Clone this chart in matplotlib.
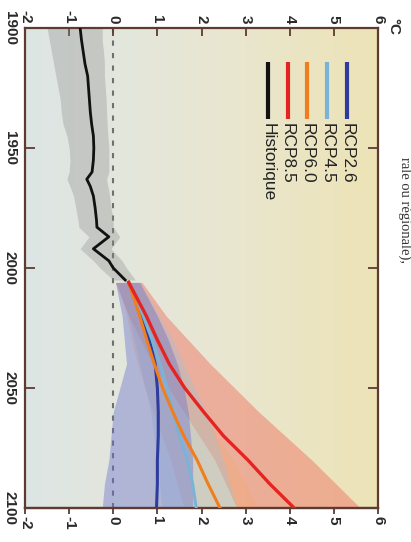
import numpy as np
import matplotlib.pyplot as plt
from matplotlib.colors import LinearSegmentedColormap

# historical simulations (multi-model mean and spread)
hist_years = [1900, 1905, 1910, 1915, 1920, 1925, 1930, 1935, 1940, 1945, 1950,
              1955, 1960, 1963, 1966, 1970, 1975, 1980, 1983, 1987, 1992, 1997, 2000, 2005]
hist_mean = [-0.75, -0.72, -0.68, -0.64, -0.58, -0.56, -0.54, -0.52, -0.49, -0.45, -0.44,
             -0.45, -0.48, -0.60, -0.52, -0.45, -0.41, -0.38, -0.37, -0.10, -0.45, -0.10, 0.0, 0.27]
hist_low = [-1.50, -1.45, -1.40, -1.35, -1.30, -1.25, -1.20, -1.18, -1.14, -1.05, -1.00,
            -0.98, -1.00, -1.05, -0.98, -0.90, -0.85, -0.80, -0.78, -0.55, -0.75, -0.45, -0.30, 0.0]
hist_high = [-0.25, -0.25, -0.22, -0.20, -0.20, -0.18, -0.16, -0.15, -0.14, -0.12, -0.10,
             -0.10, -0.10, -0.15, -0.12, -0.08, -0.05, 0.0, 0.0, 0.15, -0.05, 0.20, 0.30, 0.50]

# projections
proj_years = [2006, 2020, 2030, 2040, 2050, 2060, 2070, 2080, 2090, 2100]
rcp26 = [0.35, 0.65, 0.82, 0.95, 1.0, 1.02, 1.02, 1.0, 1.0, 0.98]
rcp45 = [0.35, 0.68, 0.88, 1.06, 1.22, 1.36, 1.50, 1.68, 1.80, 1.88]
rcp60 = [0.35, 0.60, 0.76, 0.93, 1.12, 1.35, 1.60, 1.90, 2.15, 2.42]
rcp85 = [0.35, 0.75, 1.00, 1.27, 1.62, 2.05, 2.50, 3.05, 3.55, 4.10]
rcp26_low = [0.05, 0.20, 0.25, 0.30, 0.15, 0.0, -0.05, -0.10, -0.20, -0.25]
rcp26_high = [0.60, 1.00, 1.25, 1.45, 1.60, 1.70, 1.75, 1.80, 1.80, 1.80]
rcp45_low = [0.10, 0.35, 0.48, 0.60, 0.72, 0.85, 0.92, 1.00, 1.05, 1.10]
rcp45_high = [0.60, 1.05, 1.35, 1.60, 1.85, 2.10, 2.30, 2.50, 2.65, 2.80]
rcp60_low = [0.10, 0.30, 0.42, 0.55, 0.72, 0.90, 1.10, 1.30, 1.45, 1.60]
rcp60_high = [0.60, 1.00, 1.22, 1.45, 1.72, 2.00, 2.35, 2.70, 3.00, 3.30]
rcp85_low = [0.05, 0.35, 0.62, 0.90, 1.25, 1.60, 1.95, 2.30, 2.55, 2.80]
rcp85_high = [0.65, 1.20, 1.70, 2.20, 2.75, 3.30, 3.90, 4.50, 5.05, 5.60]

legend_labels = ['RCP2.6', 'RCP4.5', 'RCP6.0', 'RCP8.5', 'Historique']
legend_colors = ['#2e3d9b', '#7bb3d6', '#f07d1e', '#e52421', '#111111']

year_ticks = [1900, 1950, 2000, 2050, 2100]
temp_ticks = [-2, -1, 0, 1, 2, 3, 4, 5, 6]

W, H = 411, 542
fig = plt.figure(figsize=(W / 100, H / 100), dpi=100)
ax = fig.add_axes([25 / W, 1 - 508 / H, 353 / W, 480 / H])

# background gradient (bluish grey -> pale yellow)
bg = LinearSegmentedColormap.from_list('bg', ['#dde5e5', '#e8e7d4', '#ede3b6'])
ax.imshow(np.linspace(0, 1, 256)[None, :], cmap=bg, aspect='auto',
          extent=(-2, 6, 2100, 1900), zorder=0)

ax.plot([0, 0], [1900, 2100], color='#6f6f6f', lw=1.5, ls=(0, (2.5, 3.5)), zorder=1)

ax.fill_betweenx(hist_years, hist_low, hist_high, color='#8a8a8a', alpha=0.32, lw=0, zorder=2)
ax.plot(hist_mean, hist_years, color='#111111', lw=2.0, zorder=6)

ax.fill_betweenx(proj_years, rcp85_low, rcp85_high, color='#f06a5a', alpha=0.45, lw=0, zorder=2)
ax.fill_betweenx(proj_years, rcp60_low, rcp60_high, color='#f4a86a', alpha=0.30, lw=0, zorder=2)
ax.fill_betweenx(proj_years, rcp45_low, rcp45_high, color='#9cc4dc', alpha=0.35, lw=0, zorder=2)
ax.fill_betweenx(proj_years, rcp26_low, rcp26_high, color='#6a72d0', alpha=0.42, lw=0, zorder=2)

ax.plot(rcp26, proj_years, color=legend_colors[0], lw=2.2, zorder=5)
ax.plot(rcp45, proj_years, color=legend_colors[1], lw=2.2, zorder=5)
ax.plot(rcp60, proj_years, color=legend_colors[2], lw=2.2, zorder=5)
ax.plot(rcp85, proj_years, color=legend_colors[3], lw=2.4, zorder=5)

# legend drawn by hand, rotated like the rest of the figure
for i, (lab, col) in enumerate(zip(legend_labels, legend_colors)):
    xl = 5.3 - i * 0.45
    ax.plot([xl, xl], [1914, 1938], color=col, lw=3, solid_capstyle='butt', zorder=7)
    ax.text(xl, 1939.5, lab, rotation=-90, ha='center', va='top', fontsize=12.5,
            family='Liberation Sans', color='#222222', zorder=7)

ax.set_xlim(-2, 6)
ax.set_ylim(2100, 1900)

frame = '#5e3b30'
for s in ax.spines.values():
    s.set_color(frame)
    s.set_linewidth(1.6)

ax.set_xticks(temp_ticks)
ax.set_xticklabels([str(t) for t in temp_ticks], rotation=-90, fontsize=11,
                   fontweight='bold', family='Liberation Sans', color='#2a2a2a')
ax.tick_params(axis='x', direction='in', length=6, width=1.3, color=frame,
               top=True, bottom=False, labeltop=True, labelbottom=False, pad=3)
ax.set_yticks(year_ticks)
ax.set_yticklabels([str(y) for y in year_ticks], rotation=-90, va='center', fontsize=11,
                   fontweight='bold', family='Liberation Sans', color='#2a2a2a')
ax.tick_params(axis='y', direction='in', length=7, width=1.3, color=frame,
               left=True, right=True, pad=6)

sec = ax.secondary_xaxis('bottom')
sec.set_xticks(temp_ticks)
sec.set_xticklabels([str(t) for t in temp_ticks], rotation=-90, fontsize=11,
                    fontweight='bold', family='Liberation Sans', color='#2a2a2a')
sec.tick_params(direction='out', length=4, width=1.3, color=frame, pad=2)
sec.spines['bottom'].set_color(frame)
sec.spines['bottom'].set_linewidth(1.6)

fig.text(393 / W, 1 - 26 / H, '°C', rotation=-90, ha='center', va='center', fontsize=11,
         fontweight='bold', family='Liberation Sans', color='#2a2a2a')
fig.text(405 / W, 1 - 210 / H, 'rale ou régionale),', rotation=-90, ha='center', va='center',
         fontsize=10.5, family='Liberation Serif', color='#333333')

fig.savefig('out.png', dpi=100, facecolor='white')
